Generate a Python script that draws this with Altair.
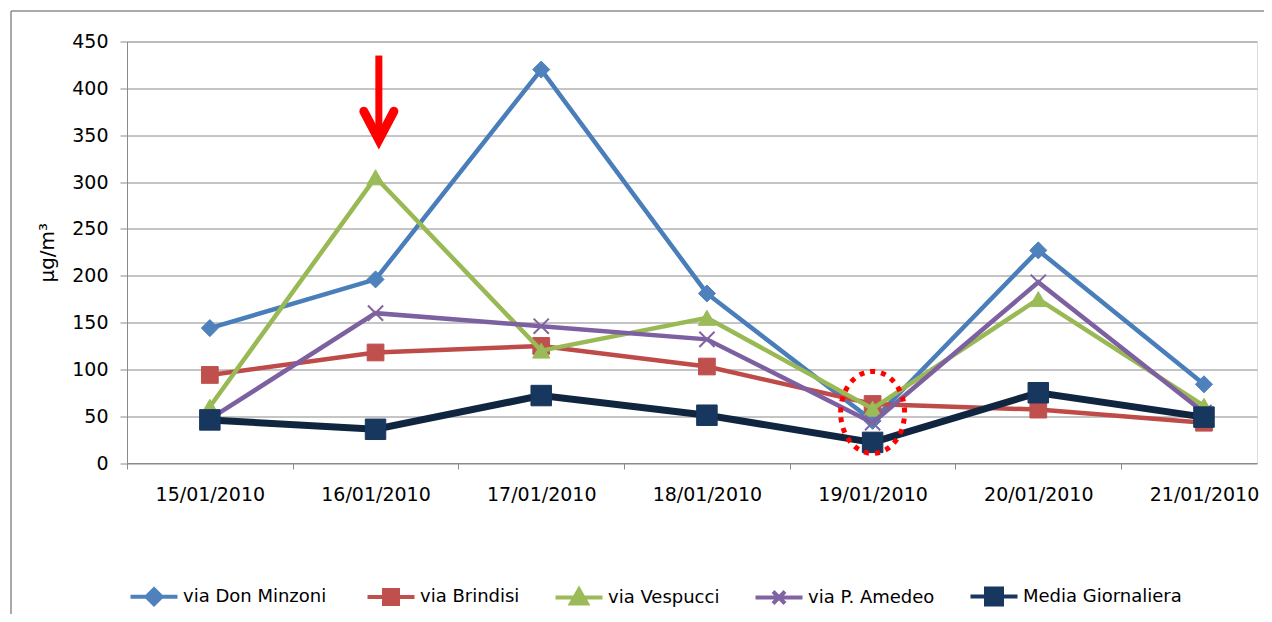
import json
import altair as alt
import pandas as pd

# ---------------- data ----------------
dates = ["15/01/2010", "16/01/2010", "17/01/2010", "18/01/2010",
         "19/01/2010", "20/01/2010", "21/01/2010"]
series_names = ["via Don  Minzoni", "via Brindisi", "via Vespucci",
                "via P. Amedeo", "Media Giornaliera"]
don_minzoni = [144, 196, 420, 181, 45, 227, 84]
brindisi = [94, 118, 125, 103, 63, 57, 43]
vespucci = [60, 305, 120, 155, 58, 175, 61]
amedeo = [47, 160, 146, 132, 43, 193, 54]
media = [46, 36, 72, 51, 22, 75, 49]
y_ticks = [0, 50, 100, 150, 200, 250, 300, 350, 400, 450]

# annotations: red arrow over 16/01 and dotted ellipse around 19/01
arrow_day = [1.02]
arrow_top = [435]
arrow_tip = [345]
ring_day = [4]
ring_value = [54]

# ---------------- styles ----------------
FONT = "DejaVu Sans"
GRID = "#8a8a8a"
line_colors = ["#4A7EBB", "#BE4B48", "#98B954", "#7D60A0", "#10253F"]
marker_colors = ["#4F81BD", "#C0504D", "#9BBB59", "#8064A2", "#17375E"]
line_widths = [4.5, 4.5, 4.5, 4.5, 7]
marker_shapes = ["diamond", "square", "triangle-up", "M-1,-1L1,1M-1,1L1,-1", "square"]
marker_sizes = [290, 280, 300, 230, 420]
L = 2.35
legend_shapes = [
    f"M-{L},0H{L}M0,-0.75L0.75,0L0,0.75L-0.75,0Z",
    f"M-{L},0H{L}M-0.7,-0.7H0.7V0.7H-0.7Z",
    f"M-{L},0H{L}M0,-0.8L0.8,0.6H-0.8Z",
    f"M-{L},0H{L}M-0.6,-0.6L0.6,0.6M-0.6,0.6L0.6,-0.6",
    f"M-{L},0H{L}M-0.8,-0.8H0.8V0.8H-0.8Z",
]

values = [don_minzoni, brindisi, vespucci, amedeo, media]
rows = []
for name, vals in zip(series_names, values):
    for i, (d, v) in enumerate(zip(dates, vals)):
        rows.append({"day": i, "date": d, "series": name, "value": v})
df = pd.DataFrame(rows)

W = 1130
H = 421.5
x_min = -0.5
x_max = 6.32
step_px = W / (x_max - x_min)

x_axis = alt.Axis(
    values=[i - 0.5 for i in range(len(dates))],
    labelExpr=f"{json.dumps(dates)}[round(datum.value + 0.5)]",
    labelOffset=step_px / 2,
    labelFlush=False,
    labelOverlap=False,
    tickSize=6,
    tickColor=GRID,
    domainColor=GRID,
    grid=False,
    title=None,
    labelPadding=16,
    labelFont=FONT,
    labelFontSize=19,
    labelColor="#000000",
)
y_axis = alt.Axis(
    values=y_ticks,
    tickSize=7,
    tickColor=GRID,
    domainColor=GRID,
    gridColor=GRID,
    grid=True,
    labelPadding=12,
    labelFont=FONT,
    labelFontSize=19,
    labelColor="#000000",
    title="µg/m³",
    titleFont=FONT,
    titleFontSize=20,
    titleFontWeight="normal",
    titleColor="#000000",
    titleAngle=270,
    titleX=-80,
    titleY=H / 2,
    titleAlign="center",
    titleBaseline="middle",
)

x_enc = alt.X("day:Q", scale=alt.Scale(domain=[x_min, x_max], nice=False, zero=False), axis=x_axis)
y_enc = alt.Y("value:Q", scale=alt.Scale(domain=[0, 450], nice=False), axis=y_axis)

base = alt.Chart(df)
layers = []

for k, name in enumerate(series_names):
    sub = base.transform_filter(alt.datum.series == name)
    line = sub.mark_line(color=line_colors[k], strokeWidth=line_widths[k]).encode(
        x=x_enc if k == 0 else "day:Q", y=y_enc if k == 0 else "value:Q"
    )
    if k == 3:
        pts = sub.mark_point(shape=marker_shapes[k], size=marker_sizes[k], filled=False,
                             stroke=marker_colors[k], strokeWidth=2, opacity=1)
    else:
        pts = sub.mark_point(shape=marker_shapes[k], size=marker_sizes[k], filled=True,
                             fill=marker_colors[k], stroke=marker_colors[k], strokeWidth=1,
                             opacity=1)
    pts = pts.encode(x="day:Q", y="value:Q")
    layers += [line, pts]

# legend-only layer
legend = alt.Legend(
    title=None, orient="none", legendX=15, legendY=543, direction="horizontal",
    columns=5, symbolSize=400, symbolStrokeWidth=4, labelOffset=17,
    columnPadding=27, labelFont=FONT, labelFontSize=18, labelColor="#000000",
    padding=0, symbolOpacity=1,
)
leg_layer = base.mark_point(filled=True, opacity=0).encode(
    x="day:Q", y="value:Q",
    fill=alt.Fill("series:N", sort=None,
                  scale=alt.Scale(domain=series_names, range=marker_colors), legend=legend),
    stroke=alt.Stroke("series:N", sort=None,
                      scale=alt.Scale(domain=series_names, range=marker_colors), legend=legend),
    shape=alt.Shape("series:N", sort=None,
                    scale=alt.Scale(domain=series_names, range=legend_shapes), legend=legend),
)
layers.append(leg_layer)

# annotations
arrow_df = pd.DataFrame({"day": arrow_day, "top": arrow_top, "tip": arrow_tip})
shaft = alt.Chart(arrow_df).mark_rule(color="#FF0000", strokeWidth=7).encode(
    x="day:Q", y="top:Q", y2="tip:Q")
head = alt.Chart(arrow_df).mark_point(
    shape="M-1,-1.9L0,0L1,-1.9", size=900, filled=False, stroke="#FF0000",
    strokeWidth=9, strokeCap="round", strokeJoin="miter", opacity=1).encode(
    x="day:Q", y="tip:Q")
ring_df = pd.DataFrame({"day": ring_day, "value": ring_value})
ring = alt.Chart(ring_df).mark_point(
    shape="M-0.78,0A0.78,1,0,1,1,0.78,0A0.78,1,0,1,1,-0.78,0Z", size=6724,
    filled=False, stroke="#FF0000", strokeWidth=5, strokeDash=[5, 6], opacity=1).encode(
    x="day:Q", y="value:Q")
layers += [shaft, head, ring]

# outer chart frame (left and top border)
frame_left = alt.Chart(ring_df).mark_rule(color="#8c8c8c", strokeWidth=1.5).encode(
    x=alt.value(-116), y=alt.value(-30.5), y2=alt.value(700))
frame_top = alt.Chart(ring_df).mark_rule(color="#8c8c8c", strokeWidth=1.5).encode(
    x=alt.value(-116), x2=alt.value(1300), y=alt.value(-30.5))
layers += [frame_left, frame_top]

chart = alt.layer(*layers).properties(
    width=W, height=H,
    padding={"left": 119, "top": 33.5, "right": 7, "bottom": 151},
    autosize=alt.AutoSizeParams(type="none"),
).configure_view(stroke=None).configure(background="#ffffff")

chart.save("out.html", embed_options={"renderer": "svg", "actions": False})
